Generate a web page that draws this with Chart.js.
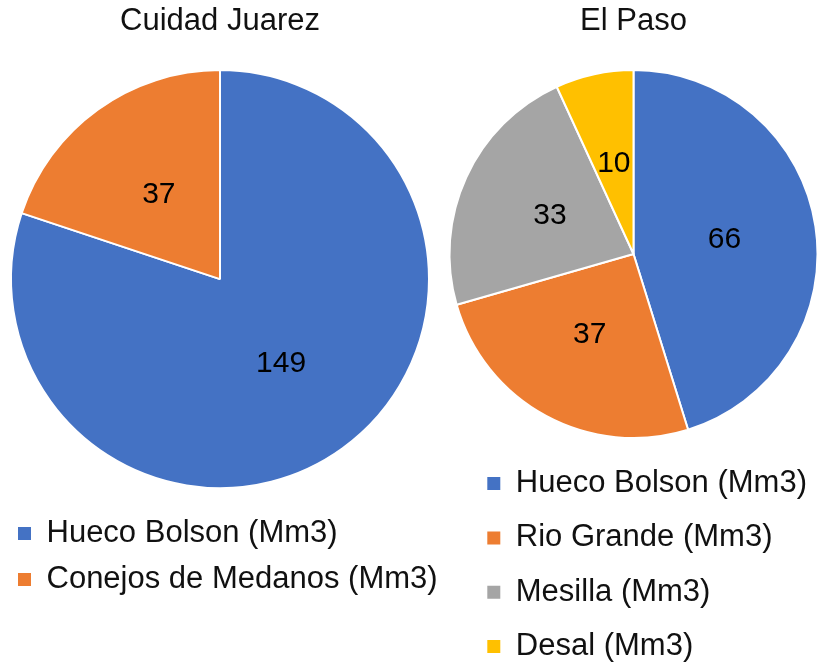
<!DOCTYPE html>
<html>
<head>
<meta charset="utf-8">
<script src="https://cdn.jsdelivr.net/npm/chart.js@4/dist/chart.umd.min.js"></script>
<style>
  html, body { margin: 0; padding: 0; background: #fff; overflow: hidden; }
  #wrap { position: relative; width: 818px; height: 667px; overflow: hidden; }
  canvas { position: absolute; top: 0; }
  #c1 { left: 0px; }
  #c2 { left: 440px; }
</style>
</head>
<body>
<div id="wrap">
  <canvas id="c1" width="440" height="680"></canvas>
  <canvas id="c2" width="378" height="680"></canvas>
</div>
<script>
// ---- Data ----
const juarezTitle = 'Cuidad Juarez';
const juarezCategories = ['Hueco Bolson (Mm3)', 'Conejos de Medanos (Mm3)'];
const juarezValues = [149, 37];

const elPasoTitle = 'El Paso';
const elPasoCategories = ['Hueco Bolson (Mm3)', 'Rio Grande (Mm3)', 'Mesilla (Mm3)', 'Desal (Mm3)'];
const elPasoValues = [66, 37, 33, 10];

const juarezColors = ['#4472C4', '#ED7D31'];
const elPasoColors = ['#4472C4', '#ED7D31', '#A5A5A5', '#FFC000'];

const FONT = "'Liberation Sans', Arial, Helvetica, sans-serif";

// Data labels at the middle of each slice (via the arc's own tooltipPosition)
const sliceLabels = {
  id: 'sliceLabels',
  afterDatasetsDraw(chart) {
    const ctx = chart.ctx;
    const meta = chart.getDatasetMeta(0);
    const data = chart.data.datasets[0].data;
    ctx.save();
    ctx.font = '30px ' + FONT;
    ctx.fillStyle = '#000';
    ctx.textAlign = 'center';
    ctx.textBaseline = 'middle';
    meta.data.forEach((arc, i) => {
      const p = arc.tooltipPosition();
      ctx.fillText(String(data[i]), p.x, p.y);
    });
    ctx.restore();
  }
};

// Let the legend box reach the canvas' right edge so long labels are not clipped
const widenLegend = {
  id: 'widenLegend',
  afterLayout(chart) {
    const lg = chart.legend;
    if (lg) {
      lg.right = chart.width;
      lg.width = lg.right - lg.left;
    }
  }
};

function genLabels(chart) {
  const items = Chart.overrides.pie.plugins.legend.labels.generateLabels(chart);
  items.forEach(it => { it.lineWidth = 0; it.strokeStyle = 'rgba(0,0,0,0)'; });
  return items;
}

function makePie(canvasId, title, cats, vals, colors, cfg) {
  return new Chart(document.getElementById(canvasId), {
    type: 'pie',
    data: {
      labels: cats,
      datasets: [{
        data: vals,
        backgroundColor: colors,
        borderColor: '#ffffff',
        borderWidth: 2,
        hoverOffset: 0,
        radius: cfg.radius
      }]
    },
    options: {
      responsive: false,
      animation: false,
      devicePixelRatio: 1,
      events: [],
      layout: { padding: cfg.layoutPadding },
      plugins: {
        tooltip: { enabled: false },
        title: {
          display: true,
          text: title,
          color: '#111',
          font: { family: FONT, size: 31, weight: 'normal' },
          padding: cfg.titlePadding
        },
        legend: {
          display: true,
          position: 'bottom',
          align: 'start',
          labels: {
            color: '#111',
            font: { family: FONT, size: 31 },
            boxWidth: 13,
            boxHeight: 13,
            padding: cfg.legendPadding,
            generateLabels: genLabels
          }
        }
      }
    },
    plugins: [sliceLabels, widenLegend]
  });
}

makePie('c1', juarezTitle, juarezCategories, juarezValues, juarezColors, {
  radius: 209,
  layoutPadding: { left: 3, right: 3, top: 0, bottom: 75 },
  titlePadding: { top: 3, bottom: 15 },
  legendPadding: 15
});

makePie('c2', elPasoTitle, elPasoCategories, elPasoValues, elPasoColors, {
  radius: 184,
  layoutPadding: { left: 24, right: 15, top: 0, bottom: 8 },
  titlePadding: { top: 3, bottom: 23 },
  legendPadding: 23.3
});
</script>
</body>
</html>
